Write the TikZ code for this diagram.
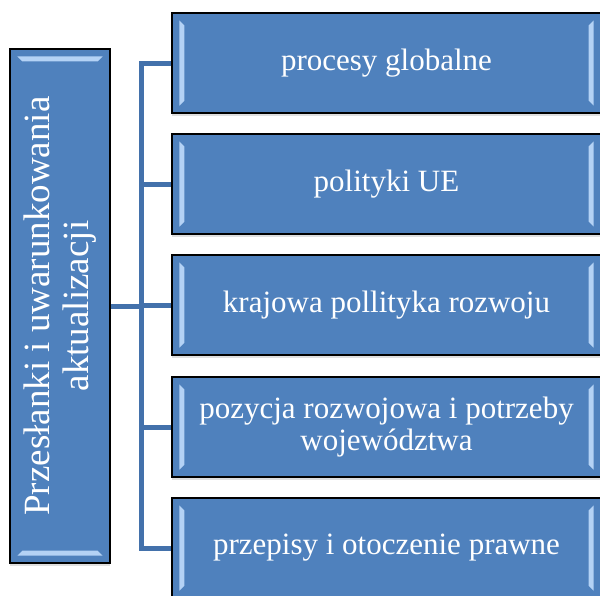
\documentclass[tikz,border=0pt]{standalone}
\usepackage{fontspec}
\setmainfont{Liberation Serif}
\usetikzlibrary{shadows}
\definecolor{boxblue}{HTML}{4F81BD}
\definecolor{lineblue}{HTML}{4371AB}
\definecolor{bevlight}{HTML}{B4D2F5}
\tikzset{
  box/.style={draw=black, line width=1.3pt, fill=boxblue, text=white, align=center, inner sep=0pt,
    drop shadow={opacity=0.25, shadow xshift=0pt, shadow yshift=-3pt}},
  rbox/.style={box, minimum width=429pt, minimum height=100pt},
  conn/.style={draw=lineblue, line width=5pt},
  bevel/.style={fill=bevlight, draw=none},
  rtext/.style={text=white, align=center, font=\fontsize{31}{32}\selectfont},
  ltext/.style={text=white, align=center, rotate=90, font=\fontsize{37}{39}\selectfont}
}
\begin{document}
\begin{tikzpicture}[x=1pt,y=1pt]
\useasboundingbox (0,0) rectangle (600,-595);
\coordinate (j) at (141.5,-306);
% boxes
\node[box, minimum width=100pt, minimum height=514pt] (L) at (60,-306) {};
\path (386.5,-63) coordinate (c1) (386.5,-184) coordinate (c2) (386.5,-305) coordinate (c3) (386.5,-427) coordinate (c4) (386.5,-548) coordinate (c5);
\node[rbox] (b1) at (c1) {};
\node[rbox] (b2) at (c2) {};
\node[rbox] (b3) at (c3) {};
\node[rbox] (b4) at (c4) {};
\node[rbox] (b5) at (c5) {};
% connectors
\draw[conn] (L.east) -- (j);
\draw[conn] (b1.west) -- (b1.west -| j) -- (b5.west -| j) -- (b5.west);
\draw[conn] (b2.west -| j) -- (b2.west);
\draw[conn] (b3.west -| j) -- (b3.west);
\draw[conn] (b4.west -| j) -- (b4.west);
% bevels on left box (top and bottom)
\fill[bevel] ([xshift=8pt,yshift=-8pt]L.north west) -- ([xshift=-8pt,yshift=-8pt]L.north east) -- ([xshift=-13pt,yshift=-13pt]L.north east) -- ([xshift=13pt,yshift=-13pt]L.north west) -- cycle;
\fill[bevel] ([xshift=8pt,yshift=8pt]L.south west) -- ([xshift=-8pt,yshift=8pt]L.south east) -- ([xshift=-13pt,yshift=13pt]L.south east) -- ([xshift=13pt,yshift=13pt]L.south west) -- cycle;
\foreach \b in {b1,b2,b3,b4,b5}{
  \fill[bevel] ([xshift=8pt,yshift=-8pt]\b.north west) -- ([xshift=8pt,yshift=8pt]\b.south west) -- ([xshift=13pt,yshift=13pt]\b.south west) -- ([xshift=13pt,yshift=-13pt]\b.north west) -- cycle;
  \fill[bevel] ([xshift=-8pt,yshift=-8pt]\b.north east) -- ([xshift=-8pt,yshift=8pt]\b.south east) -- ([xshift=-13pt,yshift=13pt]\b.south east) -- ([xshift=-13pt,yshift=-13pt]\b.north east) -- cycle;
}
% texts
\node[ltext] (Lt) at (L) {Przesłanki i uwarunkowania\\aktualizacji};
\node[rtext] (t1) at (b1) {procesy globalne};
\node[rtext] (t2) at (b2) {polityki UE};
\node[rtext] (t3) at (b3) {krajowa pollityka rozwoju};
\node[rtext] (t4) at (b4) {pozycja rozwojowa i potrzeby\\województwa};
\node[rtext] (t5) at (b5) {przepisy i otoczenie prawne};
\end{tikzpicture}
\end{document}
